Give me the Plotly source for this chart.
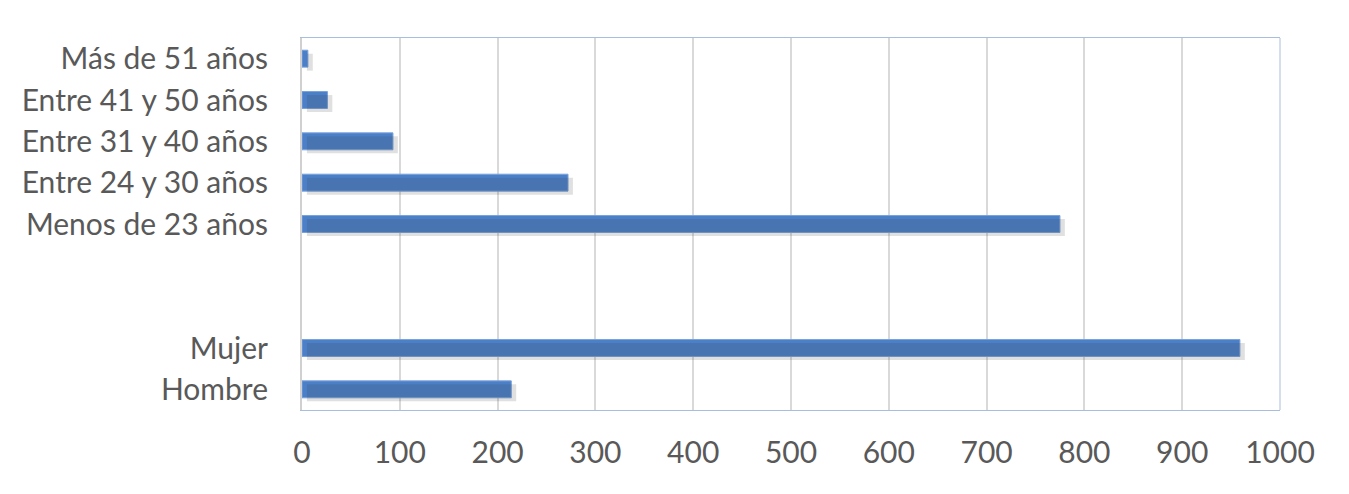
import plotly.graph_objects as go

categorias = ["Hombre", "Mujer", " ", "  ", "Menos de 23 años", "Entre 24 y 30 años",
              "Entre 31 y 40 años", "Entre 41 y 50 años", "Más de 51 años"]
valores = [214, 959, None, None, 775, 272, 93, 26, 6]
ticks_x = [0, 100, 200, 300, 400, 500, 600, 700, 800, 900, 1000]

fig = go.Figure()
# sombra suave bajo cada barra (eje oculto desplazado unos px)
fig.add_trace(go.Bar(
    y=categorias, x=valores, orientation="h", width=0.41, offset=-0.29,
    marker=dict(color="rgba(60,60,60,0.16)", line=dict(width=0)),
    xaxis="x2", hoverinfo="skip",
))
fig.add_trace(go.Bar(
    y=categorias, x=valores, orientation="h", width=0.41, offset=-0.205,
    marker=dict(color="#4b80c8", line=dict(color="#7aa2da", width=1)),
))

fig.update_layout(
    width=1349, height=494,
    margin=dict(l=294, r=77, t=30, b=92),
    paper_bgcolor="white", plot_bgcolor="white",
    showlegend=False, barmode="overlay",
    font=dict(family="Lato", color="#595959", size=30),
    xaxis=dict(range=[0, 1000], tickvals=ticks_x, showgrid=True, gridcolor="#d9d9d9",
               gridwidth=2, zeroline=False, showline=True, linecolor="#a9bedc", linewidth=1,
               mirror=True, ticklabelstandoff=16, tickfont=dict(size=30)),
    xaxis2=dict(range=[-5, 995], overlaying="x", visible=False),
    yaxis=dict(categoryorder="array", categoryarray=categorias, showgrid=False,
               showline=True, linecolor="#d0d0d0", linewidth=2,
               ticklabelstandoff=26, tickfont=dict(size=30)),
    shapes=[dict(type="line", xref="paper", yref="paper", x0=1, x1=1, y0=0, y1=1,
                 line=dict(color="#a9bedc", width=1))],
)

fig.write_html("out.html")
